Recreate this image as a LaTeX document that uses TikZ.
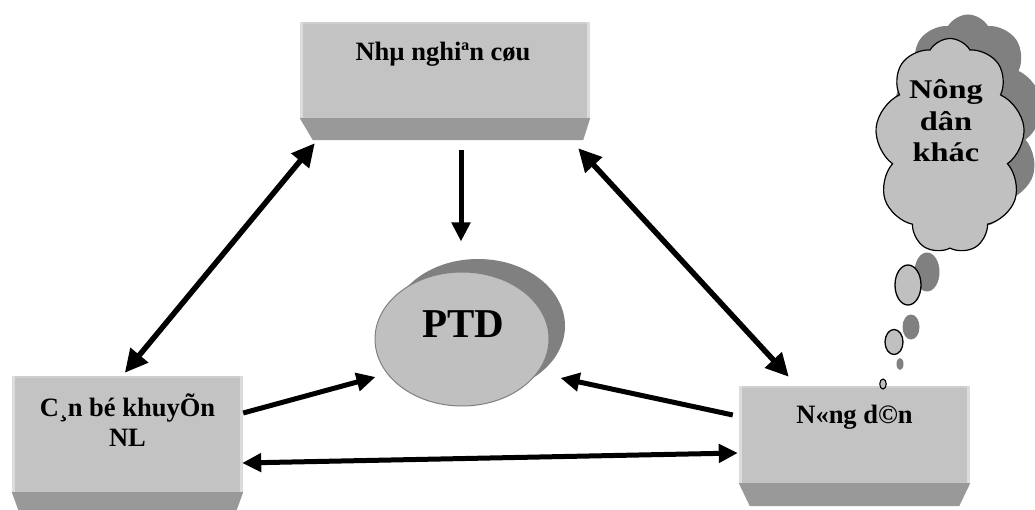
\documentclass[tikz,border=0pt]{standalone}
\usepackage{fontspec}
\setmainfont{Liberation Serif}
\newfontfamily\cloudfont[FakeStretch=1.2]{Liberation Serif}
\usetikzlibrary{arrows.meta,calc,shapes.symbols,shapes.geometric}
\definecolor{facec}{HTML}{C3C3C3}
\definecolor{litec}{HTML}{DCDCDC}
\definecolor{topc}{HTML}{CFCFCF}
\definecolor{bevc}{HTML}{999999}
\definecolor{shadc}{HTML}{808080}
\definecolor{ellc}{HTML}{C0C0C0}
\begin{document}
\begin{tikzpicture}[x=1pt,y=-1pt,
  face/.style={rectangle, fill=facec, inner sep=0pt, draw=none},
  lbl/.style={inner sep=0pt, font=\fontsize{26.5}{30}\selectfont\bfseries, align=center},
  conn/.style={line width=5pt, -{Triangle[length=19pt,width=18pt]}},
  bconn/.style={line width=5pt, {Triangle[length=19pt,width=18pt]}-{Triangle[length=19pt,width=18pt]}},
  dconn/.style={line width=5.5pt, {Triangle[length=23pt,width=22pt]}-{Triangle[length=23pt,width=22pt]}},
  cloudsh/.style={cloud, cloud puffs=9, cloud puff arc=120, cloud ignores aspect, minimum width=150, minimum height=215, inner sep=0pt},
  bubble/.style={ellipse, inner sep=0pt, fill=ellc, draw=black, line width=1.3pt},
  bubsh/.style={ellipse, inner sep=0pt, fill=shadc},
]
\useasboundingbox (0,0) rectangle (1035,510);

% ---- top box
\node[face, minimum width=290, minimum height=96] (top) at (445,70) {};
\fill[bevc] (top.south west) -- (top.south east) -- ($(top.south east)+(-7,22)$) -- ($(top.south west)+(13,22)$) -- cycle;
\fill[topc] (top.north west) rectangle ($(top.north east)+(0,2)$);
\fill[litec] (top.north west) rectangle ($(top.south west)+(3,0)$);
\fill[litec] ($(top.north east)+(-3,0)$) rectangle (top.south east);
\node[lbl, anchor=base] (toptext) at ($(top.north)+(-2,39)$) {Nhµ nghiªn cøu};

% ---- left box
\node[face, minimum width=231, minimum height=116] (left) at (127.5,434) {};
\fill[bevc] (left.south west) -- (left.south east) -- ($(left.south east)+(-8,22)$) -- ($(left.south west)+(8,22)$) -- cycle;
\fill[topc] (left.north west) rectangle ($(left.north east)+(0,2)$);
\fill[litec] (left.north west) rectangle ($(left.south west)+(3,0)$);
\fill[litec] ($(left.north east)+(-3,0)$) rectangle (left.south east);
\node[lbl, anchor=north] (lefttext) at ($(left.north)+(0,18)$) {C¸n bé khuyÕn\\NL};

% ---- right box
\node[face, minimum width=231, minimum height=97] (right) at (854.5,434.5) {};
\fill[bevc] (right.south west) -- (right.south east) -- ($(right.south east)+(-11,23)$) -- ($(right.south west)+(11,23)$) -- cycle;
\fill[topc] (right.north west) rectangle ($(right.north east)+(0,2)$);
\fill[litec] (right.north west) rectangle ($(right.south west)+(3,0)$);
\fill[litec] ($(right.north east)+(-3,0)$) rectangle (right.south east);
\node[lbl, anchor=base] (righttext) at ($(right.north)+(0,38)$) {N«ng d©n};

% ---- PTD ellipse
\node[ellipse, fill=shadc, minimum width=174, minimum height=134, inner sep=0pt] (ptdsh) at (478,326) {};
\node[ellipse, fill=ellc, draw=shadc, line width=1pt, minimum width=174, minimum height=134, inner sep=0pt] (ptd) at (462,339) {};
\node[inner sep=0pt, anchor=base, font=\fontsize{41}{45}\selectfont\bfseries] (ptdtext) at (463,337) {PTD};

% ---- cloud
\node[cloudsh, fill=shadc] (cloudshadow) at (968,122) {};
\node[cloudsh, fill=ellc, draw=black, line width=1.2pt] (cloud) at (950,146) {};
\node[inner sep=0pt, align=center, anchor=center, font=\cloudfont\fontsize{27}{31.5}\selectfont\bfseries] (cloudtext) at (946,121) {Nông\\dân\\khác};

% ---- thought bubbles
\node[bubsh, minimum width=25, minimum height=39] (b1s) at (927,272) {};
\node[bubble, minimum width=26, minimum height=40] (b1) at (908,285) {};
\node[bubsh, minimum width=17, minimum height=25] (b2s) at (911,327) {};
\node[bubble, minimum width=18, minimum height=25] (b2) at (894,342) {};
\node[bubsh, minimum width=7, minimum height=12] (b3s) at (900,364) {};
\node[bubble, minimum width=6.5, minimum height=10, line width=1.1pt] (b3) at (883,384) {};

% ---- connectors
\draw[dconn] ($(top.south west)+(15,25)$) -- ($(left.north west)+(113,-3)$);
\draw[dconn] ($(top.south east)+(-12,30)$) -- ($(right.north west)+(50,-9)$);
\draw[conn] ($(top.south)+(16,32)$) -- ($(ptd.north)+(-1,-30)$);
\draw[conn] ($(left.east)+(0,-21)$) -- ($(ptd.west)+(1,38)$);
\draw[conn] ($(right.west)+(-6,-19.5)$) -- ($(ptd.east)+(11,39)$);
\draw[bconn] ($(left.east)+(-1,29)$) -- ($(right.west)+(-1,18.5)$);
\end{tikzpicture}
\end{document}
